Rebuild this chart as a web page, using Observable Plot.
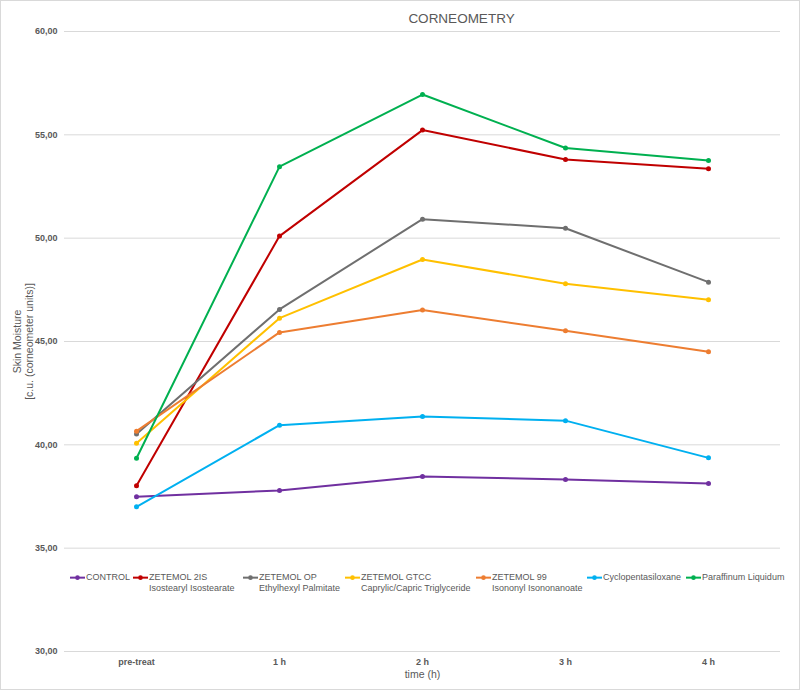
<!DOCTYPE html>
<html><head><meta charset="utf-8">
<script src="https://cdn.jsdelivr.net/npm/d3@7"></script>
<script src="https://cdn.jsdelivr.net/npm/@observablehq/plot@0.6"></script>
<style>
body{margin:0;background:#fff;}
#chart{position:relative;width:800px;height:690px;font-family:"Liberation Sans",Arial,sans-serif;}
#chart svg{display:block;outline:1px solid #d9d9d9;outline-offset:-1px;}
.leg{position:absolute;top:572px;display:flex;align-items:flex-start;font-size:9px;line-height:11.3px;color:#595959;white-space:nowrap;}
.leg svg{outline:none !important;margin-right:1px;}
</style></head><body><div id="chart"></div>
<script>
// ---- data ----
const times = ["pre-treat", "1 h", "2 h", "3 h", "4 h"];
const seriesNames = ["CONTROL", "ZETEMOL 2IS", "ZETEMOL OP", "ZETEMOL GTCC", "ZETEMOL 99", "Cyclopentasiloxane", "Paraffinum Liquidum"];
const seriesSubtitles = ["", "Isostearyl Isostearate", "Ethylhexyl Palmitate", "Caprylic/Capric Triglyceride", "Isononyl Isononanoate", "", ""];
const control     = [37.49, 37.79, 38.47, 38.32, 38.13];
const zetemol2IS  = [38.02, 50.10, 55.23, 53.81, 53.36];
const zetemolOP   = [40.53, 46.55, 50.92, 50.48, 47.87];
const zetemolGTCC = [40.08, 46.13, 48.97, 47.79, 47.02];
const zetemol99   = [40.66, 45.44, 46.52, 45.52, 44.50];
const cyclo       = [37.00, 40.95, 41.37, 41.17, 39.37];
const paraffinum  = [39.35, 53.46, 56.95, 54.36, 53.76];
const yTicks = [30, 35, 40, 45, 50, 55, 60];
const title = "CORNEOMETRY";
const xLabel = "time (h)";
const yLabel = "Skin Moisture\n[c.u. (corneometer units)]";

// ---- styles ----
const seriesColors = ["#7030A0", "#C00000", "#6F6F6F", "#FFC000", "#ED7D31", "#00B0F0", "#00B050"];
const legendLeft = [70, 133, 243, 345, 476, 587, 686];

const allValues = [control, zetemol2IS, zetemolOP, zetemolGTCC, zetemol99, cyclo, paraffinum];
const rows = seriesNames.flatMap((s, i) => times.map((t, j) => ({series: s, time: t, value: allValues[i][j]})));
const fmt = d => d.toFixed(2).replace(".", ",");

const chart = Plot.plot({
  width: 800, height: 690,
  marginLeft: 64, marginRight: 20, marginTop: 31, marginBottom: 39,
  style: {fontFamily: '"Liberation Sans", Arial, sans-serif', fontSize: "9px", color: "#595959", background: "#fff"},
  x: {type: "point", domain: times, padding: 0.5},
  y: {domain: [30, 60]},
  color: {domain: seriesNames, range: seriesColors},
  marks: [
    Plot.gridY(yTicks, {stroke: "#d9d9d9", strokeOpacity: 1}),
    Plot.axisY(yTicks, {tickSize: 0, tickPadding: 7, tickFormat: fmt, fontWeight: "bold", label: null}),
    Plot.axisX({tickSize: 0, tickPadding: 7, fontWeight: "bold", label: null}),
    Plot.line(rows, {x: "time", y: "value", z: "series", stroke: "series", strokeWidth: 2}),
    Plot.dot(rows, {x: "time", y: "value", fill: "series", r: 2.5}),
    Plot.text([title], {frameAnchor: "top", dx: 39, dy: -18, fontSize: 13.5, fill: "#595959"}),
    Plot.text([xLabel], {frameAnchor: "bottom", dy: 26, fontSize: 10.5, fill: "#595959"}),
    Plot.text([yLabel], {frameAnchor: "left", textAnchor: "middle", dx: -41, rotate: -90, fontSize: 10.5, lineHeight: 1.14, fill: "#595959"})
  ]
});
const root = document.getElementById("chart");
root.appendChild(chart);

// ---- legend ----
seriesNames.forEach((s, i) => {
  const item = document.createElement("div");
  item.className = "leg";
  item.style.left = legendLeft[i] + "px";
  const c = seriesColors[i];
  item.innerHTML = `<svg width="15" height="11.3" viewBox="0 0 15 11.3"><line x1="0" x2="15" y1="5.65" y2="5.65" stroke="${c}" stroke-width="2"/><circle cx="7.5" cy="5.65" r="2.3" fill="${c}"/></svg>` +
    `<div>${s}${seriesSubtitles[i] ? "<br>" + seriesSubtitles[i] : ""}</div>`;
  root.appendChild(item);
});
</script></body></html>
